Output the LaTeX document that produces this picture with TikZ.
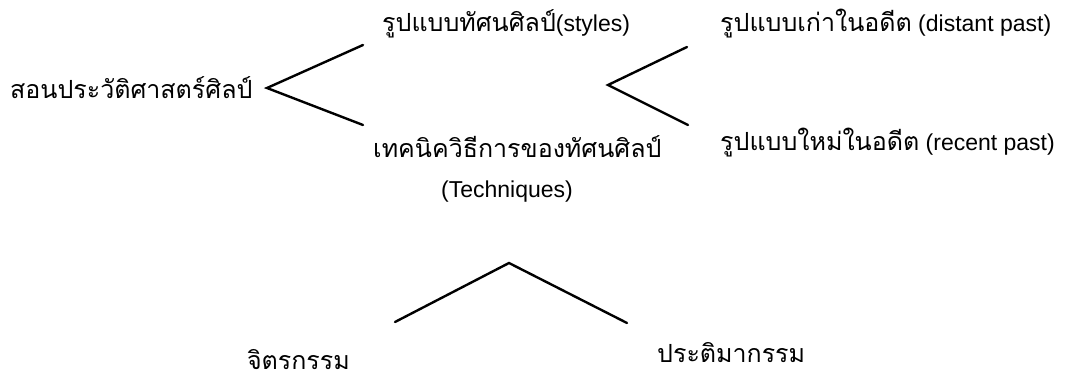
\documentclass[tikz,border=0pt]{standalone}
\usepackage{fontspec}
\setmainfont{Liberation Sans}
\newfontfamily\thai[Script=Thai]{Loma}
\newcommand{\thaitext}[1]{{\thai\fontsize{25}{28}\selectfont #1}}
\begin{document}
\begin{tikzpicture}[x=1pt,y=-1pt,
  lbl/.style={inner sep=0pt, font=\fontsize{23}{26}\selectfont},
  fork/.style={line width=2.4pt, line join=miter, line cap=round}]
\path[use as bounding box, fill=white] (0,0) rectangle (1071,379);
% texts
\node[lbl, anchor=west] (root) at (10,88) {\thaitext{สอนประวัติศาสตร์ศิลป์}};
\node[lbl, anchor=west] (styles) at (382,24) {\thaitext{รูปแบบทัศนศิลป์}(styles)};
\node[lbl, anchor=west] (tech) at (373,147) {\thaitext{เทคนิควิธีการของทัศนศิลป์}};
\node[lbl] (techen) at (507,192) {(Techniques)};
\node[lbl, anchor=west] (distant) at (720,24) {\thaitext{รูปแบบเก่าในอดีต} (distant past)};
\node[lbl, anchor=west] (recent) at (720,143) {\thaitext{รูปแบบใหม่ในอดีต} (recent past)};
\node[lbl, anchor=base east] (paint) at (350,369) {\thaitext{จิตรกรรม}};
\node[lbl, anchor=base west] (sculp) at (657,362) {\thaitext{ประติมากรรม}};
% fork coordinates
\coordinate (a1) at (267,88);
\coordinate (a1u) at (363,45);
\coordinate (a1d) at (363,125);
\coordinate (a2) at (608,85);
\coordinate (a2u) at (687,47);
\coordinate (a2d) at (688,125);
\coordinate (a3) at (509,263);
\coordinate (a3l) at (395,322);
\coordinate (a3r) at (627,323);
\draw[fork] (a1u) -- (a1) -- (a1d);
\draw[fork] (a2u) -- (a2) -- (a2d);
\draw[fork] (a3l) -- (a3) -- (a3r);
\end{tikzpicture}
\end{document}
